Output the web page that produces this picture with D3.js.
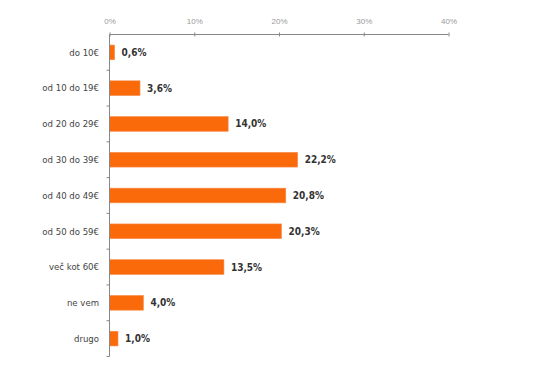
<!DOCTYPE html>
<html><head><meta charset="utf-8">
<script src="https://cdn.jsdelivr.net/npm/d3@7"></script>
<style>body{margin:0;background:#fff}svg{display:block}</style>
</head><body>
<script>
const categories = ["do 10€","od 10 do 19€","od 20 do 29€","od 30 do 39€","od 40 do 49€","od 50 do 59€","več kot 60€","ne vem","drugo"];
const values = [0.6, 3.6, 14.0, 22.2, 20.8, 20.3, 13.5, 4.0, 1.0];
const tickValues = [0, 10, 20, 30, 40];
const tickLabels = ["0%","10%","20%","30%","40%"];

const W = 545, H = 367;
const svg = d3.select("body").append("svg").attr("width", W).attr("height", H);
const x = d3.scaleLinear().domain([0, 40]).range([109.5, 448.5]);
const y = d3.scaleBand().domain(categories).range([34.5, 356.5]).paddingInner(0.59).paddingOuter(0.295);

// bars
svg.selectAll("rect.bar").data(values).enter().append("rect")
  .attr("x", x(0)).attr("y", (d,i)=>y(categories[i]))
  .attr("width", d=>x(d)-x(0)).attr("height", y.bandwidth())
  .attr("fill", "#fa6a0a").attr("stroke","#f58a4a").attr("stroke-width",0.6);

// top axis
const xAxis = d3.axisTop(x).tickValues(tickValues).tickFormat((d,i)=>tickLabels[i]).tickSize(2).tickPadding(9);
const gx = svg.append("g").attr("transform","translate(0,34.5)").call(xAxis);
gx.select(".domain").attr("stroke","#888").attr("d", `M${x(0)},0H${x(40)}`);
gx.selectAll(".tick line").attr("stroke","#888").attr("y1",2);
gx.selectAll(".tick text").attr("fill","#999").style("font-family","Liberation Sans, Arial, sans-serif").style("font-size","8px");

// left axis
const step = y.step();
const bounds = d3.range(categories.length+1).map(i => 34.5 + i*step);
svg.append("line").attr("x1",x(0)).attr("x2",x(0)).attr("y1",34.5).attr("y2",356.5).attr("stroke","#888");
svg.selectAll("line.yt").data(bounds.slice(1)).enter().append("line")
  .attr("x1",x(0)-3).attr("x2",x(0)).attr("y1",d=>d).attr("y2",d=>d).attr("stroke","#888");

// category labels
svg.selectAll("text.cat").data(categories).enter().append("text")
  .attr("x", 99).attr("y", d=>y(d)+y.bandwidth()/2).attr("dy","0.35em")
  .attr("text-anchor","end").attr("fill","#444")
  .style("font-family","'DejaVu Sans Condensed', 'Liberation Sans', sans-serif").style("font-size","9.5px")
  .text(d=>d);

// value labels
svg.selectAll("text.val").data(values).enter().append("text")
  .attr("x", d=>x(d)+7).attr("y", (d,i)=>y(categories[i])+y.bandwidth()/2).attr("dy","0.35em")
  .attr("fill","#333").style("font-weight","bold")
  .style("font-family","'DejaVu Sans Condensed', 'Liberation Sans', sans-serif").style("font-size","10px")
  .text(d=>d.toFixed(1).replace(".",",")+"%");
</script>
</body></html>
